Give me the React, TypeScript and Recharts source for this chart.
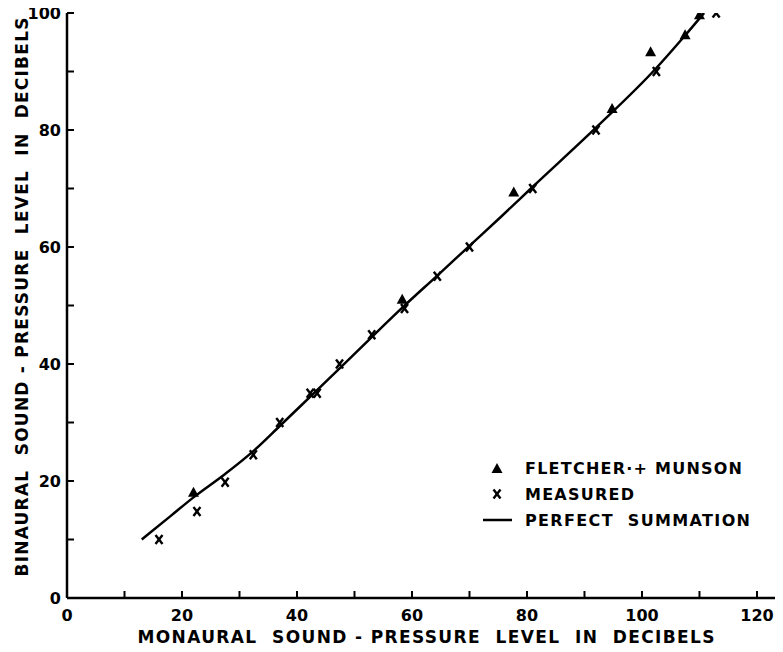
import React from 'react';
import { ComposedChart, Scatter, Line, XAxis, YAxis, Legend, Label } from 'recharts';

// Fletcher + Munson points (triangles)
const fletcherX = [22, 58.3, 77.7, 94.8, 101.5, 107.5, 110];
const fletcherY = [18, 51, 69.3, 83.6, 93.3, 96.2, 99.6];

// measured points (x marks)
const measuredX = [16, 22.6, 27.5, 32.4, 37, 42.3, 43.5, 47.4, 53, 58.7, 64.4, 70, 81, 92, 102.5, 112.9];
const measuredY = [10, 14.8, 19.8, 24.5, 30, 35, 35, 40, 45, 49.5, 55, 60, 70, 80, 90, 100];

// perfect summation curve
const summationX = [13, 18, 22, 27.5, 32.5, 37, 42.5, 48, 53, 58.5, 64.5, 70, 75.3, 81, 92, 102.5, 107, 110.8];
const summationY = [10, 14, 17.2, 21.2, 25.2, 29.4, 34.6, 39.8, 44.6, 49.8, 55.2, 60.2, 65, 70.3, 80.4, 90.6, 95.6, 100];

const xTicks = [0, 10, 20, 30, 40, 50, 60, 70, 80, 90, 100, 110, 120];
const yTicks = [0, 10, 20, 30, 40, 50, 60, 70, 80, 90, 100];

const toPoints = (xs: number[], ys: number[]) => xs.map((x, i) => ({ x, y: ys[i] }));
const fletcher = toPoints(fletcherX, fletcherY);
const measured = toPoints(measuredX, measuredY);
const summation = toPoints(summationX, summationY);

const FONT = '"DejaVu Sans", sans-serif';
const TICK = 7;
const PRE = { whiteSpace: 'pre' as const };

const BottomTick = (p: any) => {
  const v = p.payload.value;
  return (
    <g>
      <line x1={p.x} y1={p.y} x2={p.x} y2={p.y - TICK} stroke="#000" strokeWidth={2} />
      {v % 20 === 0 && (
        <text x={p.x} y={p.y + 23} textAnchor="middle" fontFamily={FONT} fontWeight="bold" fontSize={16} fill="#000">
          {v}
        </text>
      )}
    </g>
  );
};

const TopTick = (p: any) => (
  <line x1={p.x} y1={p.y} x2={p.x} y2={p.y + TICK} stroke="#000" strokeWidth={2} />
);

const LeftTick = (p: any) => {
  const v = p.payload.value;
  return (
    <g>
      <line x1={p.x} y1={p.y} x2={p.x + TICK} y2={p.y} stroke="#000" strokeWidth={2} />
      {v % 20 === 0 && (
        <text x={p.x - 6} y={p.y + 6} textAnchor="end" fontFamily={FONT} fontWeight="bold" fontSize={16} fill="#000">
          {v}
        </text>
      )}
    </g>
  );
};

const RightTick = (p: any) => (
  <line x1={p.x} y1={p.y} x2={p.x - TICK} y2={p.y} stroke="#000" strokeWidth={2} />
);

const Triangle = (p: any) => (
  <path d={`M${p.cx},${p.cy - 6} L${p.cx + 5.5},${p.cy + 4} L${p.cx - 5.5},${p.cy + 4} Z`} fill="#000" />
);

const Cross = (p: any) => (
  <g stroke="#000" strokeWidth={2.4}>
    <line x1={p.cx - 3.5} y1={p.cy - 4.5} x2={p.cx + 3.5} y2={p.cy + 4.5} />
    <line x1={p.cx + 3.5} y1={p.cy - 4.5} x2={p.cx - 3.5} y2={p.cy + 4.5} />
  </g>
);

const renderLegend = () => (
  <svg width={290} height={90}>
    <g fontFamily={FONT} fontWeight="bold" fontSize={16} fill="#000">
      <Triangle cx={17} cy={21} />
      <text x={45} y={26} textLength={217} lengthAdjust="spacing" style={PRE}>{'FLETCHER·+ MUNSON'}</text>
      <Cross cx={17} cy={46} />
      <text x={45} y={52} textLength={109} lengthAdjust="spacing" style={PRE}>{'MEASURED'}</text>
      <line x1={3} y1={72} x2={32} y2={72} stroke="#000" strokeWidth={2.5} />
      <text x={45} y={78} textLength={225} lengthAdjust="spacing" style={PRE}>{'PERFECT  SUMMATION'}</text>
    </g>
  </svg>
);

const XTitle = (p: any) => {
  const vb = p.viewBox;
  return (
    <text x={vb.x + 359} y={vb.y + 45} textAnchor="middle" fontFamily={FONT} fontWeight="bold" fontSize={17}
      textLength={577} lengthAdjust="spacing" fill="#000" style={PRE}>
      {'MONAURAL  SOUND - PRESSURE  LEVEL  IN  DECIBELS'}
    </text>
  );
};

const YTitle = () => (
  <text x={22} y={297} transform="rotate(-90, 22, 297)" textAnchor="middle" dominantBaseline="central"
    fontFamily={FONT} fontWeight="bold" fontSize={17} textLength={559} lengthAdjust="spacing" fill="#000"
    style={PRE}>
    {'BINAURAL  SOUND - PRESSURE  LEVEL  IN  DECIBELS'}
  </text>
);

export default function App() {
  return (
    <div style={{ width: 783, height: 652, overflow: 'hidden', margin: -8 }}>
      <ComposedChart width={788} height={652} margin={{ top: 13, right: 4, left: 0, bottom: 0 }}>
        <XAxis xAxisId="b" dataKey="x" type="number" domain={[0, 124.7]} allowDataOverflow ticks={xTicks}
          interval={0} tickSize={0} tickMargin={0} tickLine={false} tick={<BottomTick />}
          axisLine={{ stroke: '#000', strokeWidth: 2.5 }} height={54}>
          <Label content={<XTitle />} />
        </XAxis>
        <XAxis xAxisId="t" orientation="top" dataKey="x" type="number" domain={[0, 124.7]} allowDataOverflow
          ticks={xTicks.slice(1)} interval={0} tickSize={0} tickMargin={0} tickLine={false} tick={<TopTick />}
          axisLine={{ stroke: '#000', strokeWidth: 2 }} height={0} />
        <YAxis yAxisId="l" type="number" domain={[0, 100]} allowDataOverflow ticks={yTicks} interval={0}
          tickSize={0} tickMargin={0} tickLine={false} tick={<LeftTick />}
          axisLine={{ stroke: '#000', strokeWidth: 2.5 }} width={67}>
          <Label content={<YTitle />} />
        </YAxis>
        <YAxis yAxisId="r" orientation="right" type="number" domain={[0, 100]} allowDataOverflow
          ticks={yTicks.slice(1, -1)} interval={0} tickSize={0} tickMargin={0} tickLine={false}
          tick={<RightTick />} axisLine={false} width={0} />
        <Line xAxisId="b" yAxisId="l" data={summation} dataKey="y" type="monotone" stroke="#000"
          strokeWidth={2.5} dot={false} isAnimationActive={false} />
        <Scatter xAxisId="b" yAxisId="l" data={measured} dataKey="y" shape={Cross} isAnimationActive={false} />
        <Scatter xAxisId="b" yAxisId="l" data={fletcher} dataKey="y" shape={Triangle} isAnimationActive={false} />
        <Legend layout="vertical" align="center" verticalAlign="middle" content={renderLegend}
          wrapperStyle={{ left: 480, top: 448, width: 290, height: 90 }} />
      </ComposedChart>
    </div>
  );
}
